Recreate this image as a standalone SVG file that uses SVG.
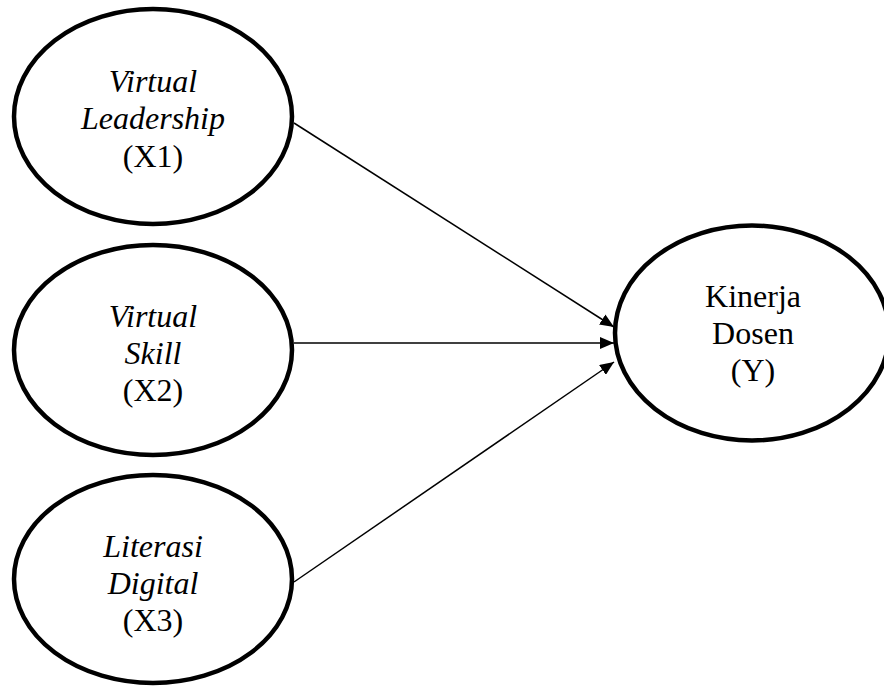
<svg xmlns="http://www.w3.org/2000/svg" width="884" height="688" viewBox="0 0 884 688">
<style>
.node ellipse{fill:#fff;stroke:#000;stroke-width:4.5}
.node text{font-family:"Liberation Serif","Times New Roman",serif;font-size:32px;fill:#000;text-anchor:middle}
.it{font-style:italic}
.conn line{stroke:#000;stroke-width:1.5}
</style>
<defs>
<marker id="arr" viewBox="0 0 14 12" refX="14" refY="6" markerWidth="14" markerHeight="12" markerUnits="userSpaceOnUse" orient="auto">
<path d="M0,0 L14,6 L0,12 z" fill="#000"/>
</marker>
</defs>
<rect width="884" height="688" fill="#fff"/>
<g id="connectors" class="conn">
<line x1="294" y1="123" x2="614" y2="327" marker-end="url(#arr)"/>
<line x1="294" y1="343" x2="614" y2="343" marker-end="url(#arr)"/>
<line x1="294" y1="582" x2="614" y2="362" marker-end="url(#arr)"/>
</g>
<g id="x1" class="node">
<ellipse cx="153" cy="116.5" rx="139" ry="107.5"/>
<text x="153" y="92" class="it">Virtual</text>
<text x="153" y="129" class="it">Leadership</text>
<text x="153" y="167">(X1)</text>
</g>
<g id="x2" class="node">
<ellipse cx="153" cy="350" rx="139" ry="105"/>
<text x="153" y="327" class="it">Virtual</text>
<text x="153" y="364" class="it">Skill</text>
<text x="153" y="401">(X2)</text>
</g>
<g id="x3" class="node">
<ellipse cx="153" cy="579" rx="139" ry="104"/>
<text x="153" y="557" class="it">Literasi</text>
<text x="153" y="594" class="it">Digital</text>
<text x="153" y="631">(X3)</text>
</g>
<g id="y" class="node">
<ellipse cx="752" cy="333" rx="137" ry="107.5"/>
<text x="753" y="307">Kinerja</text>
<text x="753" y="344">Dosen</text>
<text x="753" y="381">(Y)</text>
</g>
</svg>
